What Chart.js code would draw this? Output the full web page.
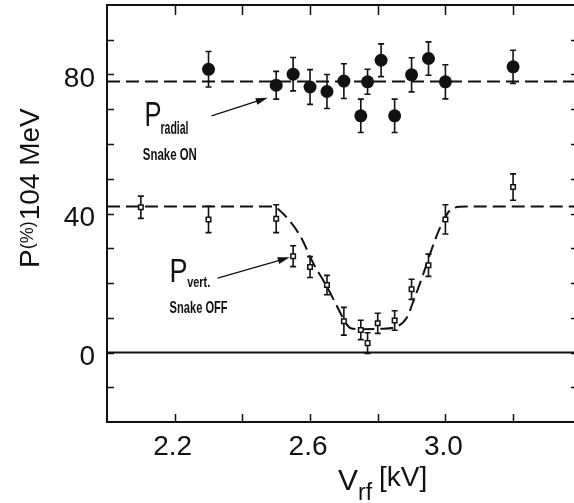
<!DOCTYPE html>
<html lang="en">
<head>
<meta charset="UTF-8">
<title>Polarization vs Vrf</title>
<script src="https://cdn.jsdelivr.net/npm/chart.js"></script>
<style>
  html, body { margin: 0; padding: 0; background: #fff; }
  #wrap { width: 574px; height: 503px; position: relative; }
</style>
</head>
<body>
<div id="wrap"><canvas id="chart"></canvas></div>
<script>
// P radial, snake ON (filled circles)
const radialX   = [2.30, 2.50, 2.55, 2.60, 2.65, 2.70, 2.75, 2.77, 2.81, 2.85, 2.90, 2.95, 3.00, 3.20];
const radialY   = [81.5, 76.9, 80.1, 76.4, 75.1, 78.1, 68.1, 77.9, 84.1, 68.1, 79.9, 84.6, 77.9, 82.2];
const radialErr = [5.1, 4.0, 4.8, 5.0, 4.9, 5.0, 4.8, 3.6, 4.7, 4.8, 4.9, 4.8, 4.9, 4.8];

// P vert., snake OFF (open squares)
const vertX   = [2.10, 2.30, 2.50, 2.55, 2.60, 2.65, 2.70, 2.75, 2.77, 2.80, 2.85, 2.90, 2.95, 3.00, 3.20];
const vertY   = [41.8, 38.3, 38.5, 27.7, 24.6, 19.4, 9.0, 6.5, 2.7, 8.4, 9.2, 18.2, 25.1, 38.3, 47.6];
const vertErr = [3.2, 3.8, 4.0, 3.0, 3.0, 2.8, 4.0, 2.8, 3.0, 2.9, 2.8, 2.9, 3.2, 4.2, 3.8];

// dashed curves
const radialFitX = [2.0, 3.38];
const radialFitY = [78, 78];
const vertFitX = [2.0, 2.49, 2.52, 2.57, 2.61, 2.65, 2.69, 2.70, 2.72, 2.75, 2.81, 2.855, 2.885, 2.91, 2.935, 2.955, 2.985, 3.02, 3.06, 3.38];
const vertFitY = [42, 42, 40, 33.7, 25.6, 18.9, 11.3, 9.4, 7.0, 6.7, 6.8, 7.4, 9.9, 16, 22.7, 28.5, 36.1, 41.4, 42, 42];

const zeroX = [2.0, 3.38];
const zeroY = [0, 0];

// axes
const xMin = 2.0, xMax = 3.38;
const yMin = -20, yMax = 100;
const xTickLabels = ['2.2', '2.6', '3.0'];
const yTickLabels = ['0', '40', '80'];

const ink = '#111';
const numFont = '"Liberation Sans", Arial, Helvetica, sans-serif';

function pts(xs, ys) { return xs.map((v, i) => ({ x: v, y: ys[i] })); }

// text squeezed to a given width (condensed lettering in the figure)
function fitText(ctx, txt, px, py, font, w) {
  ctx.save();
  ctx.font = font;
  const m = ctx.measureText(txt).width;
  ctx.translate(px, py);
  ctx.scale(w / m, 1);
  ctx.fillText(txt, 0, 0);
  ctx.restore();
}

function arrow(ctx, x0, y0, x1, y1) {
  const a = Math.atan2(y1 - y0, x1 - x0);
  ctx.beginPath();
  ctx.moveTo(x0, y0);
  ctx.lineTo(x1 - 8 * Math.cos(a), y1 - 8 * Math.sin(a));
  ctx.stroke();
  ctx.beginPath();
  ctx.moveTo(x1, y1);
  ctx.lineTo(x1 - 12 * Math.cos(a) + 3.5 * Math.sin(a), y1 - 12 * Math.sin(a) - 3.5 * Math.cos(a));
  ctx.lineTo(x1 - 12 * Math.cos(a) - 3.5 * Math.sin(a), y1 - 12 * Math.sin(a) + 3.5 * Math.cos(a));
  ctx.closePath();
  ctx.fill();
}

const decor = {
  id: 'decor',
  beforeDatasetsDraw(chart) {
    const { ctx, scales: { x, y } } = chart;
    ctx.save();
    ctx.strokeStyle = ink;
    ctx.lineWidth = 1.6;
    [[radialX, radialY, radialErr], [vertX, vertY, vertErr]].forEach(([xs, ys, es]) => {
      xs.forEach((v, i) => {
        const px = x.getPixelForValue(v);
        const t = y.getPixelForValue(ys[i] + es[i]);
        const b = y.getPixelForValue(ys[i] - es[i]);
        ctx.beginPath();
        ctx.moveTo(px, t); ctx.lineTo(px, b);
        ctx.moveTo(px - 3, t); ctx.lineTo(px + 3, t);
        ctx.moveTo(px - 3, b); ctx.lineTo(px + 3, b);
        ctx.stroke();
      });
    });
    ctx.restore();
  },
  afterDraw(chart) {
    const { ctx, chartArea: ca, scales: { x, y } } = chart;
    ctx.save();
    ctx.strokeStyle = ink;
    ctx.fillStyle = ink;

    // top frame line
    ctx.lineWidth = 2;
    ctx.beginPath();
    ctx.moveTo(ca.left, ca.top); ctx.lineTo(ca.right, ca.top);
    ctx.stroke();

    // inward tick marks
    ctx.lineWidth = 1.5;
    x.ticks.forEach(t => {
      const v = t.value;
      if (v <= xMin + 1e-6 || v >= xMax - 1e-6) return;
      const px = Math.round(x.getPixelForValue(v)) + 0.5;
      ctx.beginPath();
      ctx.moveTo(px, ca.bottom); ctx.lineTo(px, ca.bottom - 8);
      ctx.moveTo(px, ca.top); ctx.lineTo(px, ca.top + 10);
      ctx.stroke();
    });
    y.ticks.forEach(t => {
      const v = t.value;
      if (v <= yMin || v >= yMax) return;
      const py = Math.round(y.getPixelForValue(v)) + 0.5;
      ctx.beginPath();
      ctx.moveTo(ca.left, py); ctx.lineTo(ca.left + 7, py);
      ctx.moveTo(ca.right, py); ctx.lineTo(ca.right - 3, py);
      ctx.stroke();
    });

    // tick labels
    ctx.font = '28px ' + numFont;
    ctx.textBaseline = 'alphabetic';
    ctx.textAlign = 'center';
    xTickLabels.forEach(s => ctx.fillText(s, x.getPixelForValue(parseFloat(s)) - 2, ca.bottom + 33));
    ctx.textAlign = 'right';
    yTickLabels.forEach(s => ctx.fillText(s, ca.left - 12, y.getPixelForValue(parseFloat(s)) + 12.5));

    // annotations
    const X = v => x.getPixelForValue(v), Y = v => y.getPixelForValue(v);
    ctx.textAlign = 'left';
    fitText(ctx, 'P', X(2.111), Y(65.2), '35px ' + numFont, 17);
    fitText(ctx, 'radial', X(2.158), Y(63.0), 'bold 19px ' + numFont, 28);
    fitText(ctx, 'Snake ON', X(2.106), Y(55.5), 'bold 16px ' + numFont, 54);
    fitText(ctx, 'P', X(2.185), Y(20.3), '34px ' + numFont, 18);
    fitText(ctx, 'vert.', X(2.237), Y(18.8), 'bold 15px ' + numFont, 23);
    fitText(ctx, 'Snake OFF', X(2.185), Y(11.4), 'bold 17px ' + numFont, 58);
    ctx.lineWidth = 1.3;
    arrow(ctx, X(2.309), Y(68.1), X(2.475), Y(73.3));
    arrow(ctx, X(2.327), Y(21.4), X(2.54), Y(27.4));

    // x axis title: V_rf [kV]
    ctx.font = '30px ' + numFont;
    ctx.fillText('V', 338, 490);
    ctx.font = '23px ' + numFont;
    ctx.fillText('rf', 358, 500);
    ctx.font = '28px ' + numFont;
    ctx.fillText('[kV]', 379, 486);

    // y axis title: P(%) 104 MeV, rotated
    ctx.translate(39, 268);
    ctx.rotate(-Math.PI / 2);
    ctx.font = '28px ' + numFont;
    ctx.fillText('P', 0, 0);
    let w = ctx.measureText('P').width;
    ctx.font = '18px ' + numFont;
    ctx.fillText('(%)', w, -6);
    w += ctx.measureText('(%)').width + 1;
    ctx.font = '28px ' + numFont;
    ctx.fillText('104 MeV', w, 0);
    ctx.restore();
  }
};

const ctx = document.getElementById('chart').getContext('2d');
new Chart(ctx, {
  type: 'scatter',
  data: {
    datasets: [
      {
        label: 'P radial (Snake ON)',
        data: pts(radialX, radialY),
        pointStyle: 'circle',
        pointRadius: 6.5,
        backgroundColor: ink,
        borderColor: ink,
        borderWidth: 0,
        order: 0
      },
      {
        label: 'P vert. (Snake OFF)',
        data: pts(vertX, vertY),
        pointStyle: 'rect',
        pointRadius: 3.2,
        backgroundColor: '#fff',
        borderColor: ink,
        borderWidth: 1.5,
        order: 0
      },
      {
        type: 'line',
        label: 'radial fit',
        data: pts(radialFitX, radialFitY),
        borderColor: ink,
        borderWidth: 2,
        borderDash: [13, 6],
        pointRadius: 0,
        fill: false,
        order: 1
      },
      {
        type: 'line',
        label: 'vert fit',
        data: pts(vertFitX, vertFitY),
        borderColor: ink,
        borderWidth: 2,
        borderDash: [13, 6],
        cubicInterpolationMode: 'monotone',
        pointRadius: 0,
        fill: false,
        order: 1
      },
      {
        type: 'line',
        label: 'zero',
        data: pts(zeroX, zeroY),
        borderColor: ink,
        borderWidth: 2,
        pointRadius: 0,
        fill: false,
        order: 2
      }
    ]
  },
  options: {
    responsive: true,
    maintainAspectRatio: false,
    animation: false,
    layout: { autoPadding: false, padding: { top: 5, right: 0, bottom: 0, left: 0 } },
    plugins: { legend: { display: false }, tooltip: { enabled: false } },
    scales: {
      x: {
        type: 'linear',
        min: xMin,
        max: xMax,
        afterFit: s => { s.height = 81; },
        grid: { display: false, drawTicks: false },
        border: { display: true, color: ink, width: 2 },
        ticks: { display: false, stepSize: 0.2, autoSkip: false }
      },
      y: {
        type: 'linear',
        min: yMin,
        max: yMax,
        afterFit: s => { s.width = 107; },
        grid: { display: false, drawTicks: false },
        border: { display: true, color: ink, width: 2 },
        ticks: { display: false, stepSize: 10, autoSkip: false }
      }
    }
  },
  plugins: [decor]
});
</script>
</body>
</html>
